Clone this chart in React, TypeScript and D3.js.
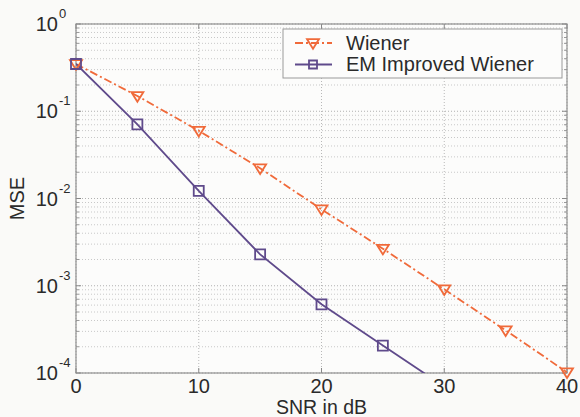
import React from "react";
import * as d3 from "d3";

const snr = [0, 5, 10, 15, 20, 25, 30, 35, 40];
const wiener = [0.348, 0.1496, 0.0598, 0.0222, 0.00752, 0.00266, 0.00091, 0.000308, 0.000102];
const emSnr = [0, 5, 10, 15, 20, 25, 30];
const emWiener = [0.348, 0.0708, 0.0122, 0.00229, 0.000613, 0.000206, 0.00007];
const xTicks = [0, 10, 20, 30, 40];
const yExponents = [0, -1, -2, -3, -4];
const seriesNames = ["Wiener", "EM Improved Wiener"];

const W = 580, H = 417;
const M = { left: 76, right: 567, top: 24, bottom: 373 };
const ORANGE = "#f06a3a";
const PURPLE = "#5f4a8b";
const FONT = "'Liberation Sans', Arial, Helvetica, sans-serif";

export default function App() {
  const x = d3.scaleLinear().domain([0, 40]).range([M.left, M.right]);
  const y = d3.scaleLog().domain([1e-4, 1]).range([M.bottom, M.top]);

  const line = d3.line<[number, number]>().x(d => x(d[0])).y(d => y(d[1]));
  const wPts: [number, number][] = snr.map((s, i) => [s, wiener[i]]);
  const ePts: [number, number][] = emSnr.map((s, i) => [s, emWiener[i]]);
  const inRange = (p: [number, number]) => p[1] >= 1e-4 * 0.999 && p[1] <= 1 && p[0] >= 0 && p[0] <= 40;

  const minor: number[] = [];
  for (let e = -4; e < 0; e++) for (let k = 2; k <= 9; k++) minor.push(k * Math.pow(10, e));

  const tri = (cx: number, cy: number, s = 6) =>
    `M${cx - s},${cy - s * 0.65}L${cx + s},${cy - s * 0.65}L${cx},${cy + s * 0.95}Z`;
  const sq = (cx: number, cy: number, s = 5) =>
    `M${cx - s},${cy - s}L${cx + s},${cy - s}L${cx + s},${cy + s}L${cx - s},${cy + s}Z`;

  const dashDot = "8,3,2,3";

  return (
    <svg width={W} height={H} style={{ position: "absolute", left: 0, top: 0 }} fontFamily={FONT}>
      <defs>
        <clipPath id="plot">
          <rect x={M.left} y={M.top} width={M.right - M.left} height={M.bottom - M.top} />
        </clipPath>
      </defs>
      <rect width={W} height={H} fill="#fafaf8" />
      <rect x={M.left} y={M.top} width={M.right - M.left} height={M.bottom - M.top} fill="#fcfcfb" />
      {/* grid */}
      {minor.map((v, i) => (
        <line key={"mg" + i} x1={M.left} x2={M.right} y1={y(v)} y2={y(v)} stroke="#c8c8c8" strokeWidth={1} strokeDasharray="1,2" />
      ))}
      {yExponents.map(e => (
        <line key={"yg" + e} x1={M.left} x2={M.right} y1={y(Math.pow(10, e))} y2={y(Math.pow(10, e))} stroke="#b0b0b0" strokeWidth={1} strokeDasharray="1,2" />
      ))}
      {xTicks.map(t => (
        <line key={"xg" + t} x1={x(t)} x2={x(t)} y1={M.top} y2={M.bottom} stroke="#b8b8b8" strokeWidth={1} strokeDasharray="1,2" />
      ))}
      {/* ticks */}
      {xTicks.map(t => (
        <g key={"xt" + t}>
          <line x1={x(t)} x2={x(t)} y1={M.bottom} y2={M.bottom - 5} stroke="#888" />
          <line x1={x(t)} x2={x(t)} y1={M.top} y2={M.top + 5} stroke="#888" />
        </g>
      ))}
      {yExponents.map(e => (
        <g key={"yt" + e}>
          <line x1={M.left} x2={M.left + 5} y1={y(Math.pow(10, e))} y2={y(Math.pow(10, e))} stroke="#888" />
          <line x1={M.right} x2={M.right - 5} y1={y(Math.pow(10, e))} y2={y(Math.pow(10, e))} stroke="#888" />
        </g>
      ))}
      {minor.map((v, i) => (
        <g key={"mt" + i}>
          <line x1={M.left} x2={M.left + 3} y1={y(v)} y2={y(v)} stroke="#999" />
          <line x1={M.right} x2={M.right - 3} y1={y(v)} y2={y(v)} stroke="#999" />
        </g>
      ))}
      {/* frame */}
      <rect x={M.left} y={M.top} width={M.right - M.left} height={M.bottom - M.top} fill="none" stroke="#8f8f8f" strokeWidth={1.2} />
      {/* lines */}
      <g clipPath="url(#plot)">
        <path d={line(wPts) || ""} fill="none" stroke={ORANGE} strokeWidth={1.8} strokeDasharray={dashDot} />
        <path d={line(ePts) || ""} fill="none" stroke={PURPLE} strokeWidth={1.8} />
      </g>
      {wPts.filter(inRange).map((p, i) => (
        <path key={"wm" + i} d={tri(x(p[0]), y(p[1]))} fill="none" stroke={ORANGE} strokeWidth={1.8} />
      ))}
      {ePts.filter(inRange).map((p, i) => (
        <path key={"em" + i} d={sq(x(p[0]), y(p[1]))} fill="none" stroke={PURPLE} strokeWidth={1.8} />
      ))}
      {/* x tick labels */}
      {xTicks.map(t => (
        <text key={"xl" + t} x={x(t)} y={393} textAnchor="middle" fontSize={20} fill="#2a2a2a">{t}</text>
      ))}
      {/* y tick labels */}
      {yExponents.map(e => {
        const yy = y(Math.pow(10, e));
        return (
          <g key={"yl" + e} fill="#2a2a2a">
            <text x={58} y={yy + 7} textAnchor="end" fontSize={20}>10</text>
            <text x={59} y={yy - 6} textAnchor="start" fontSize={13}>{e === 0 ? "0" : `-${-e}`}</text>
          </g>
        );
      })}
      {/* axis labels */}
      <text x={(M.left + M.right) / 2} y={414} textAnchor="middle" fontSize={19.5} fill="#2a2a2a">SNR in dB</text>
      <text transform={`translate(24,${(M.top + M.bottom) / 2}) rotate(-90)`} textAnchor="middle" fontSize={20} fill="#2a2a2a">MSE</text>
      {/* legend */}
      <g>
        <rect x={283} y={29} width={279} height={49} fill="#fcfcfb" stroke="#9a9a9a" strokeWidth={1} />
        <line x1={295} x2={332} y1={43} y2={43} stroke={ORANGE} strokeWidth={1.8} strokeDasharray={dashDot} />
        <path d={tri(313, 43)} fill="none" stroke={ORANGE} strokeWidth={1.8} />
        <text x={346} y={49.5} fontSize={20} fill="#2a2a2a">{seriesNames[0]}</text>
        <line x1={295} x2={332} y1={64.5} y2={64.5} stroke={PURPLE} strokeWidth={1.8} />
        <path d={sq(313, 64.5, 4)} fill="none" stroke={PURPLE} strokeWidth={1.8} />
        <text x={346} y={71} fontSize={20} fill="#2a2a2a">{seriesNames[1]}</text>
      </g>
    </svg>
  );
}
